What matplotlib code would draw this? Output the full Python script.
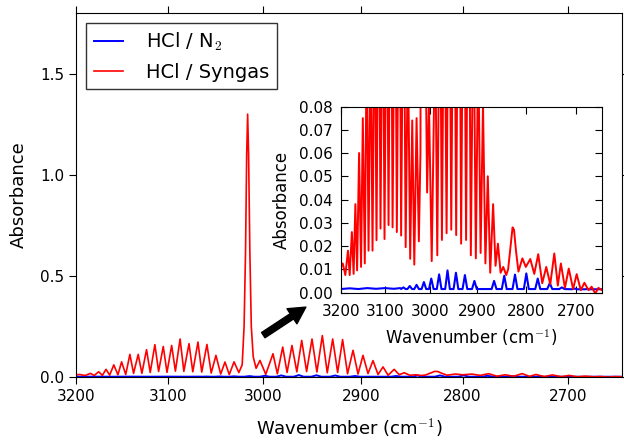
import matplotlib
matplotlib.use("Agg")
import matplotlib.pyplot as plt
from matplotlib.ticker import NullLocator, FixedLocator, FixedFormatter

plt.rcParams['mathtext.fontset'] = 'cm'
plt.rcParams['mathtext.default'] = 'rm'

# HCl diluted in N2 (blue trace)
blue_wn = [3200, 3180, 3160, 3140, 3120, 3100, 3080, 3066,
           3064, 3059, 3054, 3050, 3045, 3040, 3035, 3030, 3025,
           3019, 3014, 3009, 3003, 2998, 2993, 2986, 2981, 2976,
           2968, 2963, 2958, 2950, 2945, 2940, 2931, 2926, 2921,
           2911, 2906, 2901, 2870, 2865, 2860, 2849, 2844, 2839,
           2827, 2822, 2817, 2804, 2799, 2794, 2781, 2776, 2771,
           2757, 2752, 2747, 2733, 2728, 2723, 2708, 2703, 2698,
           2683, 2678, 2673, 2650]
blue_abs = [0.0015, 0.0018, 0.0015, 0.0019, 0.0016, 0.0019, 0.0016, 0.0019,
            0.0015, 0.0022, 0.0015, 0.0015, 0.0028, 0.0015, 0.0015, 0.0033, 0.0015,
            0.0015, 0.0045, 0.0015, 0.0015, 0.0060, 0.0015, 0.0015, 0.0078, 0.0015,
            0.0015, 0.0095, 0.0015, 0.0015, 0.0085, 0.0015, 0.0015, 0.0075, 0.0015,
            0.0015, 0.0050, 0.0015, 0.0015, 0.0050, 0.0015, 0.0015, 0.0072, 0.0015,
            0.0015, 0.0077, 0.0015, 0.0015, 0.0082, 0.0015, 0.0015, 0.0060, 0.0015,
            0.0015, 0.0040, 0.0015, 0.0015, 0.0022, 0.0015, 0.0014, 0.0017, 0.0014,
            0.0014, 0.0015, 0.0014, 0.0014]

# HCl in syngas (red trace)
red_wn = [3200, 3196, 3190, 3184, 3180, 3175, 3171, 3167, 3163, 3158.5,
          3154, 3150, 3145.5, 3141, 3137, 3132, 3128, 3123, 3119, 3114,
          3110, 3105, 3101, 3096, 3092, 3087, 3083, 3077.5, 3073.5, 3068,
          3064, 3058.5, 3054, 3049, 3044, 3039.5, 3035, 3030, 3025, 3021.5,
          3019.5, 3018, 3016.8, 3015.8, 3014.8, 3013.5, 3012, 3010, 3007, 3003,
          2997, 2989.5, 2985, 2979.5, 2975, 2970, 2965, 2960, 2955, 2949.5,
          2944.5, 2939, 2934, 2928.5, 2923.5, 2918.5, 2913.5, 2908, 2903, 2898,
          2893, 2888, 2883, 2878, 2873, 2867, 2862, 2857, 2851.5, 2846,
          2840, 2836, 2831, 2827, 2824, 2820, 2815, 2807, 2800, 2791,
          2783, 2775, 2767, 2759, 2751, 2743, 2736, 2730, 2722, 2714.5,
          2706, 2699, 2691, 2684, 2676, 2670, 2663, 2657, 2650]
red_abs = [0.011, 0.0125, 0.0075, 0.018, 0.0075, 0.026, 0.008, 0.038, 0.0095, 0.060,
           0.011, 0.075, 0.0125, 0.112, 0.018, 0.112, 0.018, 0.135, 0.0225, 0.160,
           0.0275, 0.151, 0.023, 0.156, 0.029, 0.188, 0.028, 0.165, 0.026, 0.173,
           0.0245, 0.161, 0.0195, 0.107, 0.0145, 0.074, 0.012, 0.075, 0.022, 0.06,
           0.25, 0.62, 1.10, 1.30, 1.10, 0.62, 0.25, 0.10, 0.043, 0.082,
           0.0135, 0.115, 0.016, 0.148, 0.0226, 0.156, 0.0255, 0.181, 0.027, 0.188,
           0.0247, 0.205, 0.021, 0.188, 0.0226, 0.185, 0.016, 0.132, 0.0147, 0.107,
           0.017, 0.081, 0.0125, 0.050, 0.0085, 0.038, 0.0115, 0.021, 0.0085, 0.011,
           0.0075, 0.010, 0.020, 0.028, 0.027, 0.018, 0.009, 0.0147, 0.011, 0.0144,
           0.008, 0.0165, 0.004, 0.011, 0.0035, 0.0168, 0.003, 0.0125, 0.002, 0.0103,
           0.0015, 0.0079, 0.001, 0.0042, 0.001, 0.0025, -0.0005, 0.002, 0.001]

wn_ticks = [3200, 3100, 3000, 2900, 2800, 2700]
xlabel = 'Wavenumber (cm$^{-1}$)'


def wn_axis(ax, size):
    ax.set_xscale('log')
    ax.set_xlim(3200, 2650)
    ax.xaxis.set_major_locator(FixedLocator(wn_ticks))
    ax.xaxis.set_major_formatter(FixedFormatter([str(t) for t in wn_ticks]))
    ax.xaxis.set_minor_locator(NullLocator())
    ax.tick_params(labelsize=size)


fig = plt.figure(figsize=(6.24, 4.41), dpi=100)

# main panel
ax = fig.add_axes([0.1218, 0.1451, 0.875, 0.8254])
ax.plot(blue_wn, blue_abs, color='b', lw=1.4, label='HCl / N$_2$')
ax.plot(red_wn, red_abs, color='r', lw=1.2, label='HCl / Syngas')
wn_axis(ax, 11)
ax.set_ylim(0, 1.8)
ax.set_yticks([0.0, 0.5, 1.0, 1.5])
ax.set_yticklabels(['0.0', '0.5', '1.0', '1.5'])
ax.tick_params(direction='out', top=True, right=True, length=5)
ax.set_xlabel(xlabel, fontsize=13, labelpad=9)
ax.set_ylabel('Absorbance', fontsize=13, labelpad=9)
leg = ax.legend(loc='upper left', fontsize=14, fancybox=False, handlelength=1.5,
                handletextpad=1.2, borderaxespad=0.5)
leg.get_frame().set_edgecolor('black')
leg.get_frame().set_linewidth(1.0)

ax.annotate('', xy=(0.421, 0.192), xytext=(0.343, 0.115), xycoords='axes fraction',
            arrowprops=dict(facecolor='black', edgecolor='black', width=4.5,
                            headwidth=13, headlength=12, shrink=0))

# inset zoom on the baseline
ins = fig.add_axes([0.5465, 0.3367, 0.4183, 0.4218])
ins.plot(blue_wn, blue_abs, color='b', lw=1.5)
ins.plot(red_wn, red_abs, color='r', lw=1.4)
wn_axis(ins, 11)
ins.set_ylim(0, 0.08)
ins.set_yticks([0.0, 0.01, 0.02, 0.03, 0.04, 0.05, 0.06, 0.07, 0.08])
ins.set_yticklabels(['%.2f' % v for v in ins.get_yticks()])
ins.tick_params(direction='in', top=True, right=True, length=5, pad=6)
ins.tick_params(axis='x', pad=8)
ins.set_xlabel(xlabel, fontsize=12, labelpad=6)
ins.set_ylabel('Absorbance', fontsize=12, labelpad=6)

fig.savefig('out.png', dpi=100)
